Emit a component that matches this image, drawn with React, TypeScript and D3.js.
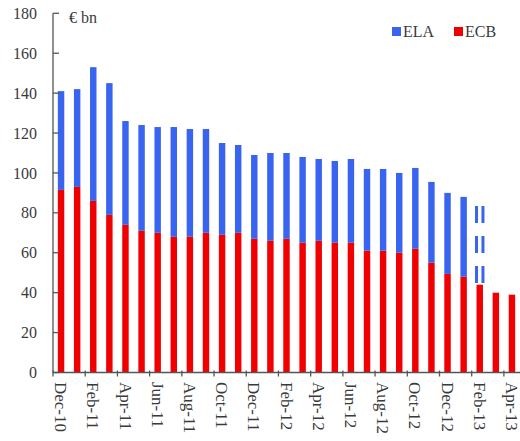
import React from "react";
import * as d3 from "d3";

const months = [
  "Dec-10", "Jan-11", "Feb-11", "Mar-11", "Apr-11", "May-11", "Jun-11", "Jul-11",
  "Aug-11", "Sep-11", "Oct-11", "Nov-11", "Dec-11", "Jan-12", "Feb-12", "Mar-12",
  "Apr-12", "May-12", "Jun-12", "Jul-12", "Aug-12", "Sep-12", "Oct-12", "Nov-12",
  "Dec-12", "Jan-13", "Feb-13", "Mar-13", "Apr-13",
];
const ecb = [
  91.5, 93, 86, 79, 74, 71, 70, 68, 68, 70, 69, 70, 67, 66, 67, 65,
  66, 65, 65, 61, 61, 60, 62, 55, 49.4, 48, 44, 40, 39,
];
const ela: (number | null)[] = [
  49.5, 49, 67, 66, 52, 53, 53, 55, 54, 52, 46, 44, 42, 44, 43, 43,
  41, 41, 42, 41, 41, 40, 40.5, 40.5, 40.6, 40, null, null, null,
];
const elaProjected: (number | null)[] = [
  null, null, null, null, null, null, null, null, null, null, null, null, null, null, null, null,
  null, null, null, null, null, null, null, null, null, null, 39.4, null, null,
];
const yTicks = [0, 20, 40, 60, 80, 100, 120, 140, 160, 180];
const xLabels = months.filter((_, i) => i % 2 === 0);

const BLUE = "#3864ef";
const RED = "#f00000";
const AXIS = "#555";
const TEXT = "#3a3a3a";
const FONT = "'Liberation Serif', 'Times New Roman', serif";

export default function App() {
  const W = 520, H = 441;
  const x0 = 53, x1 = 520;
  const yTop = 13.3, yBot = 372.5;
  const x = d3.scaleBand<string>().domain(months).range([x0, x1]).paddingInner(0.6).paddingOuter(0.3);
  const y = d3.scaleLinear().domain([0, 180]).range([yBot, yTop]);
  const bw = x.bandwidth();
  const gapHalf = (x.step() - bw) / 2;

  return (
    <svg width={W} height={H} style={{ position: "absolute", left: 0, top: 0, background: "#fff" }}
      fontFamily={FONT}>
      {/* bars */}
      {months.map((m, i) => {
        const bx = x(m)!;
        const e = ecb[i];
        const l = ela[i];
        const p = elaProjected[i];
        return (
          <g key={m}>
            <rect x={bx} width={bw} y={y(e)} height={y(0) - y(e)} fill={RED} />
            {l != null && (
              <rect x={bx} width={bw} y={y(e + l)} height={y(e) - y(e + l)} fill={BLUE} />
            )}
            {p != null && (
              <g stroke={BLUE} strokeWidth={3} strokeDasharray="17 13">
                <line x1={bx} x2={bx} y1={y(e + p)} y2={y(e)} />
                <line x1={bx + bw} x2={bx + bw} y1={y(e + p)} y2={y(e)} />
              </g>
            )}
          </g>
        );
      })}
      {/* y axis */}
      <line x1={x0} x2={x0} y1={yTop} y2={yBot} stroke={AXIS} strokeWidth={1.3} />
      {yTicks.map((t) => (
        <g key={t}>
          <line x1={x0} x2={x0 + 6} y1={y(t)} y2={y(t)} stroke={AXIS} strokeWidth={1.3} />
          <text x={37} y={y(t)} dy="0.35em" textAnchor="end" fontSize={16} fill={TEXT}>{t}</text>
        </g>
      ))}
      {/* x axis */}
      <line x1={x0} x2={x1} y1={yBot} y2={yBot} stroke={AXIS} strokeWidth={1.3} />
      {months.map((m, i) =>
        i % 2 === 0 ? (
          <line key={m} x1={x(m)! - gapHalf} x2={x(m)! - gapHalf} y1={yBot - 2} y2={yBot + 4}
            stroke={AXIS} strokeWidth={1.3} />
        ) : null
      )}
      {xLabels.map((m) => {
        const cx = x(m)! + bw / 2;
        return (
          <text key={m} transform={`translate(${cx},${382}) rotate(90)`} dy="0.35em"
            fontSize={17} fill={TEXT}>{m}</text>
        );
      })}
      {/* unit label */}
      <text x={69} y={23} fontSize={16} fill={TEXT}>€ bn</text>
      {/* legend */}
      <rect x={392} y={27} width={9} height={9} fill={BLUE} />
      <text x={403} y={37} fontSize={16} fill={TEXT}>ELA</text>
      <rect x={454} y={27} width={9} height={9} fill={RED} />
      <text x={465} y={37} fontSize={16} fill={TEXT}>ECB</text>
    </svg>
  );
}
